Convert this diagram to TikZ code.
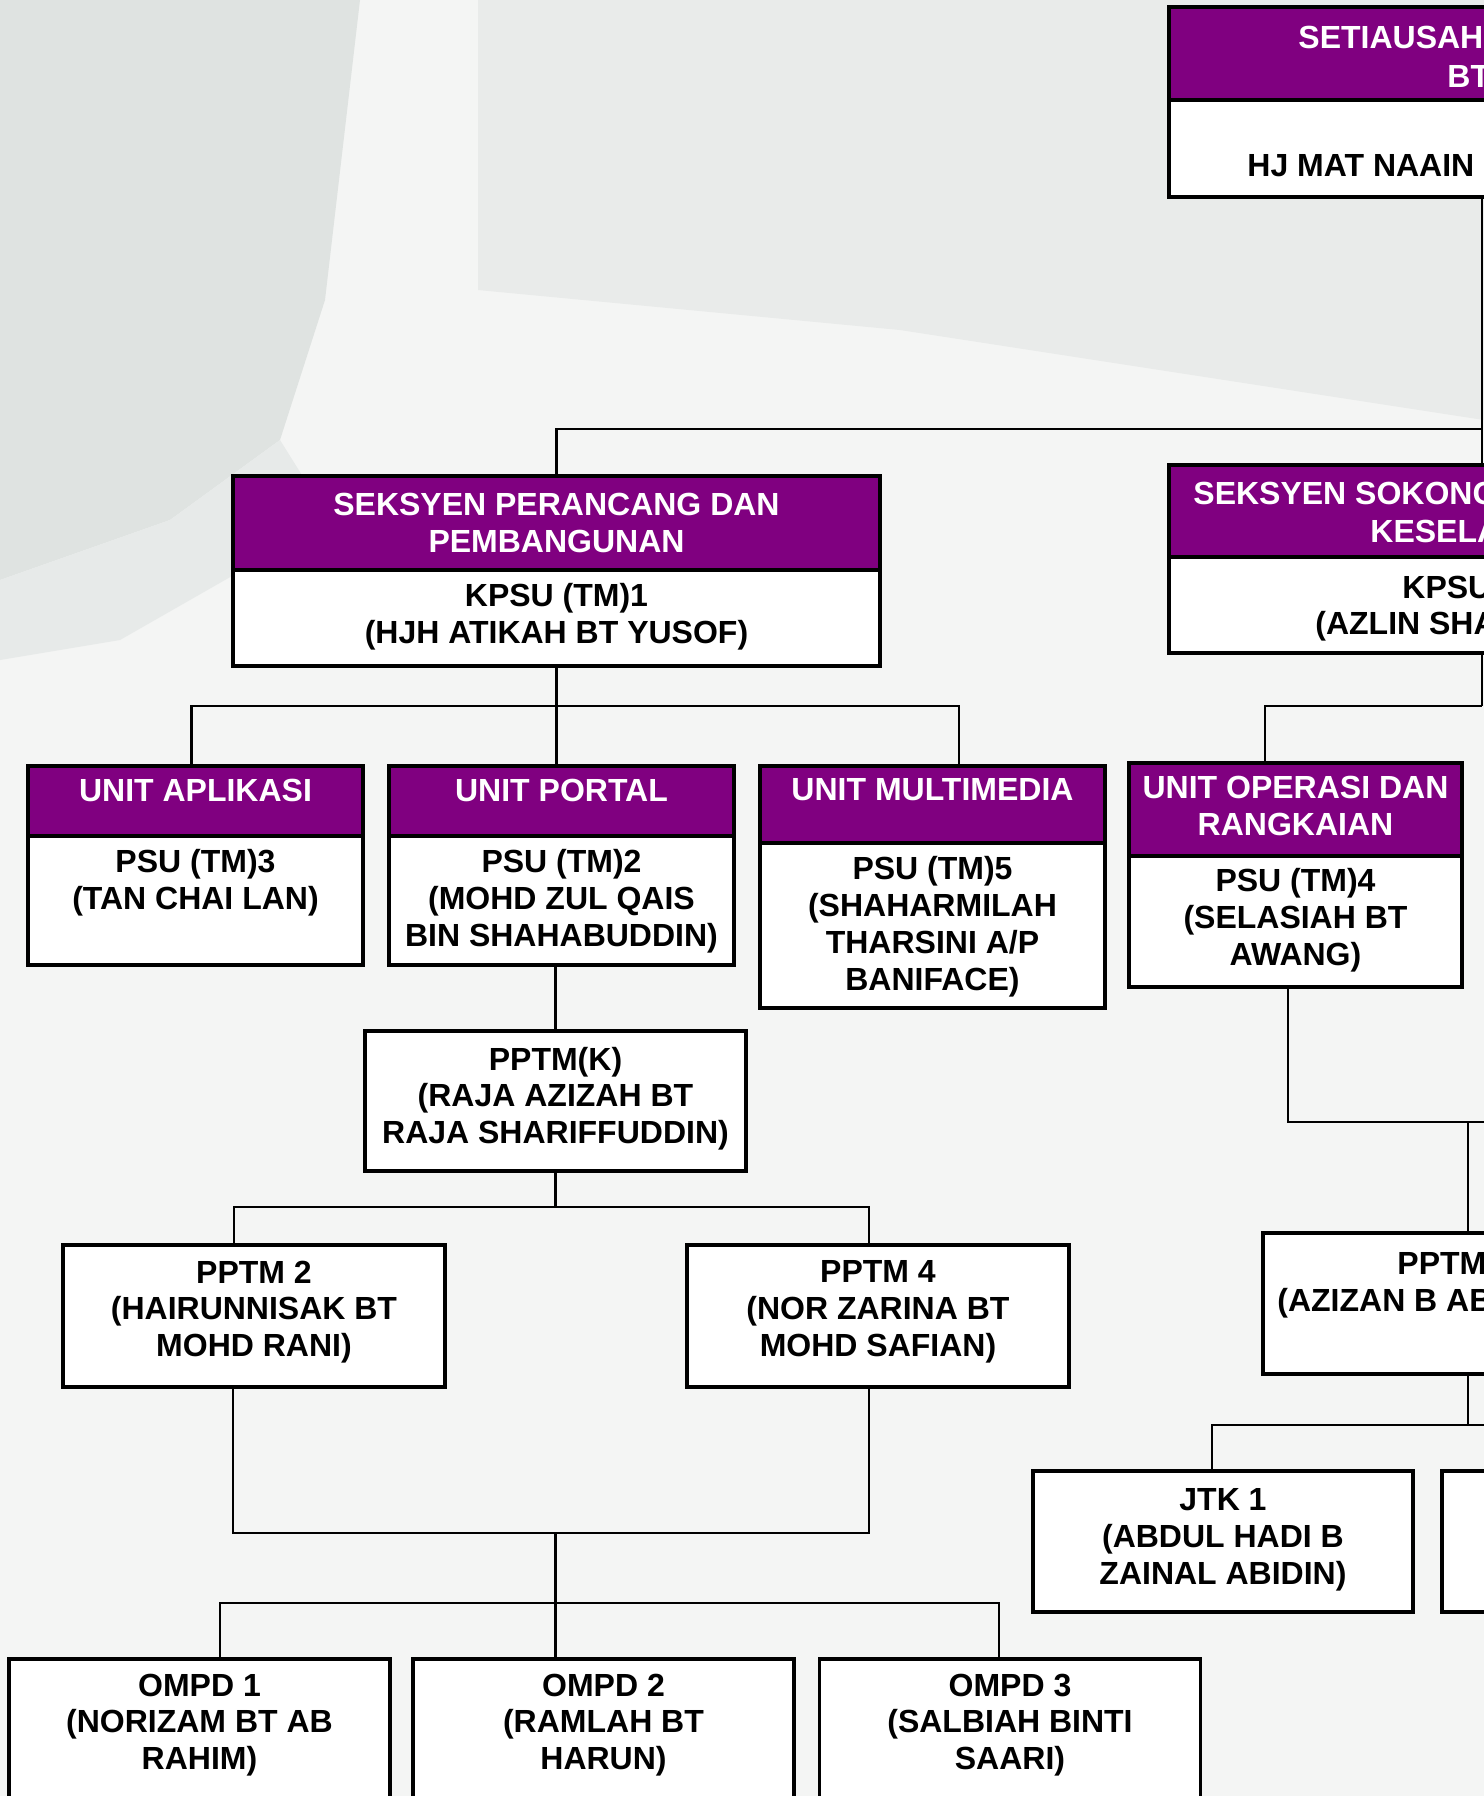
\documentclass[tikz,border=0pt]{standalone}
\usepackage{fontspec}
\setmainfont{Liberation Sans}
\usetikzlibrary{positioning}
\definecolor{ungu}{HTML}{800080}
\definecolor{latar}{HTML}{F4F5F4}
\definecolor{latargelap}{HTML}{DFE3E1}
\definecolor{latarsederhana}{HTML}{E9EBEA}

\begin{document}
\begin{tikzpicture}[x=0.5pt, y=-0.5pt,
    kepala/.style={draw, line width=1.8pt, fill=ungu, inner sep=0pt},
    badan/.style={draw, line width=1.8pt, fill=white, inner sep=0pt},
    kotak/.style={draw, line width=1.6pt, fill=white, inner sep=0pt},
    tajuk/.style={text=white, font=\bfseries\fontsize{16}{18.4}\selectfont, align=center, inner sep=0pt},
    nama/.style={text=black, font=\bfseries\fontsize{16}{18.4}\selectfont, align=center, inner sep=0pt},
    garis/.style={line width=1.4pt}]
          \useasboundingbox (0,0) rectangle (1484,1796);
          \clip (0,0) rectangle (1484,1796);

          % Latar
          \fill[latar] (0,0) rectangle (1484,1796);
          \fill[latargelap] (0,0) -- (360,0) -- (325,300) -- (280,440) -- (170,520) -- (0,580) -- cycle;
          \fill[latargelap!60!latar] (0,580) -- (170,520) -- (280,440) -- (330,520) -- (120,640) -- (0,660) -- cycle;
          \fill[latarsederhana] (478,0) -- (1484,0) -- (1484,420) -- (900,330) -- (478,290) -- cycle;

          % Kotak atas
          \node[kepala, minimum width=315pt, minimum height=46.5pt] (setiaH) at (1484,53.5) {};
          \node[badan, minimum width=315pt, minimum height=48.5pt] (setiaB) at (1484,148.5) {};
          \node[tajuk, anchor=base west] (setiaT1) at (1298,48.5) {SETIAUSAHA};
          \node[tajuk, anchor=base west] (setiaT2) at (1447,87.5) {BT};
          \node[nama, anchor=base west] (setiaT3) at (1247,176.5) {HJ MAT NAAIN};

          % Seksyen
          \node[kepala, minimum width=323.5pt, minimum height=47pt] (sksLH) at (556.5,523) {};
          \node[badan, minimum width=323.5pt, minimum height=48pt] (sksLB) at (556.5,618) {};
          \node[tajuk, below=9.5pt of sksLH.north] (sksLHt) {SEKSYEN PERANCANG DAN\\PEMBANGUNAN};
          \node[nama, below=7.5pt of sksLB.north] (sksLBt) {KPSU (TM)1\\(HJH ATIKAH BT YUSOF)};

          \node[kepala, minimum width=315pt, minimum height=46pt] (sksRH) at (1484,511) {};
          \node[badan, minimum width=315pt, minimum height=48pt] (sksRB) at (1484,605) {};
          \node[tajuk, anchor=base west] (sksRT1) at (1193,504.5) {SEKSYEN SOKONG};
          \node[tajuk, anchor=base west] (sksRT2) at (1370,542.5) {KESELA};
          \node[nama, anchor=base west] (sksRT3) at (1402,598.5) {KPSU};
          \node[nama, anchor=base west] (sksRT4) at (1315,634.5) {(AZLIN SHA};

          % Unit
          \node[kepala, minimum width=167.5pt, minimum height=35pt] (aplH) at (195.5,801) {};
          \node[badan, minimum width=167.5pt, minimum height=64.5pt] (aplB) at (195.5,900.5) {};
          \node[tajuk, below=7.5pt of aplH.north] (aplHt) {UNIT APLIKASI};
          \node[nama, below=7.5pt of aplB.north] (aplBt) {PSU (TM)3\\(TAN CHAI LAN)};

          \node[kepala, minimum width=172.5pt, minimum height=35pt] (ptlH) at (561.5,801) {};
          \node[badan, minimum width=172.5pt, minimum height=64.5pt] (ptlB) at (561.5,900.5) {};
          \node[tajuk, below=7.5pt of ptlH.north] (ptlHt) {UNIT PORTAL};
          \node[nama, below=7.5pt of ptlB.north] (ptlBt) {PSU (TM)2\\(MOHD ZUL QAIS\\BIN SHAHABUDDIN)};

          \node[kepala, minimum width=172.5pt, minimum height=38.5pt] (mmH) at (932.5,804.5) {};
          \node[badan, minimum width=172.5pt, minimum height=82.5pt] (mmB) at (932.5,925.5) {};
          \node[tajuk, below=7pt of mmH.north] (mmHt) {UNIT MULTIMEDIA};
          \node[nama, below=7.5pt of mmB.north] (mmBt) {PSU (TM)5\\(SHAHARMILAH\\THARSINI A/P\\BANIFACE)};

          \node[kepala, minimum width=166.5pt, minimum height=46.5pt] (opsH) at (1295.5,809.5) {};
          \node[badan, minimum width=166.5pt, minimum height=65.5pt] (opsB) at (1295.5,921.5) {};
          \node[tajuk, below=7.5pt of opsH.north] (opsHt) {UNIT OPERASI DAN\\RANGKAIAN};
          \node[nama, below=7pt of opsB.north] (opsBt) {PSU (TM)4\\(SELASIAH BT\\AWANG)};

          % Pegawai
          \node[kotak, minimum width=190.5pt, minimum height=70pt] (pptmk) at (555.5,1101) {};
          \node[nama, below=8.5pt of pptmk.north] (pptmkt) {PPTM(K)\\(RAJA AZIZAH BT\\RAJA SHARIFFUDDIN)};
          \node[kotak, minimum width=191pt, minimum height=71pt] (pptm2) at (254,1316) {};
          \node[nama, below=8.5pt of pptm2.north] (pptm2t) {PPTM 2\\(HAIRUNNISAK BT\\MOHD RANI)};
          \node[kotak, minimum width=191pt, minimum height=71pt] (pptm4) at (878,1316) {};
          \node[nama, below=8.5pt of pptm4.north] (pptm4t) {PPTM 4\\(NOR ZARINA BT\\MOHD SAFIAN)};

          \node[kotak, minimum width=205pt, minimum height=70.5pt] (pptmR) at (1468,1303.5) {};
          \node[nama, anchor=base west] (pptmRt1) at (1397,1274.5) {PPTM};
          \node[nama, anchor=base west] (pptmRt2) at (1277,1311.5) {(AZIZAN B AB};

          \node[kotak, minimum width=190pt, minimum height=70.5pt] (jtk1) at (1223,1541.5) {};
          \node[nama, below=9.5pt of jtk1.north] (jtk1t) {JTK 1\\(ABDUL HADI B\\ZAINAL ABIDIN)};
          \node[kotak, minimum width=190pt, minimum height=70.5pt] (jtk2) at (1632,1541.5) {};

          \node[kotak, minimum width=190.5pt, minimum height=73pt] (ompd1) at (199.5,1732) {};
          \node[nama, below=8pt of ompd1.north] (ompd1t) {OMPD 1\\(NORIZAM BT AB\\RAHIM)};
          \node[kotak, minimum width=190.5pt, minimum height=73pt] (ompd2) at (603.5,1732) {};
          \node[nama, below=8pt of ompd2.north] (ompd2t) {OMPD 2\\(RAMLAH BT\\HARUN)};
          \node[kotak, minimum width=190.5pt, minimum height=73pt] (ompd3) at (1010,1732) {};
          \node[nama, below=8pt of ompd3.north] (ompd3t) {OMPD 3\\(SALBIAH BINTI\\SAARI)};

          % Garisan
          \coordinate (tr1) at (1482,429);
          \coordinate (tr2) at (1482,706);
          \coordinate (busL) at (556.5,706);
          \draw[garis] (setiaB.south -| tr1) -- (sksRH.north -| tr1);
          \draw[garis] (sksRB.south -| tr2) -- (tr2);
          \draw[garis] (sksLH.north) |- (tr1);
          \draw[garis] (sksLB.south) -- (ptlH.north -| sksLB.south);
          \draw[garis] ([xshift=-2pt]aplH.north) |- (busL) -| ([xshift=13.25pt]mmH.north);
          \draw[garis] ([xshift=-15.25pt]opsH.north) |- (tr2);

          \coordinate (tepiA) at (1484,1122);
          \coordinate (tepiB) at (1484,1425);
          \draw[garis] ([xshift=-3.75pt]opsB.south) |- (tepiA);
          \draw[garis] (pptmR.north) -- (pptmR.north |- tepiA);
          \draw[garis] (pptmR.south) -- (pptmR.south |- tepiB);
          \draw[garis] ([xshift=-5.5pt]jtk1.north) |- (tepiB);

          \coordinate (busK) at (555.5,1207);
          \coordinate (busJ) at (555.5,1533);
          \coordinate (busO) at (555.5,1603);
          \draw[garis] (ptlB.south -| pptmk.north) -- (pptmk.north);
          \draw[garis] (pptmk.south) -- (busK);
          \draw[garis] ([xshift=-10pt]pptm2.north) |- (busK) -| ([xshift=-4.5pt]pptm4.north);
          \draw[garis] ([xshift=-10.5pt]pptm2.south) |- (busJ) -| ([xshift=-4.5pt]pptm4.south);
          \draw[garis] (busJ) -- (ompd2.north -| busJ);
          \draw[garis] ([xshift=10.25pt]ompd1.north) |- (busO) -| ([xshift=-5.5pt]ompd3.north);
        \end{tikzpicture}
\end{document}
